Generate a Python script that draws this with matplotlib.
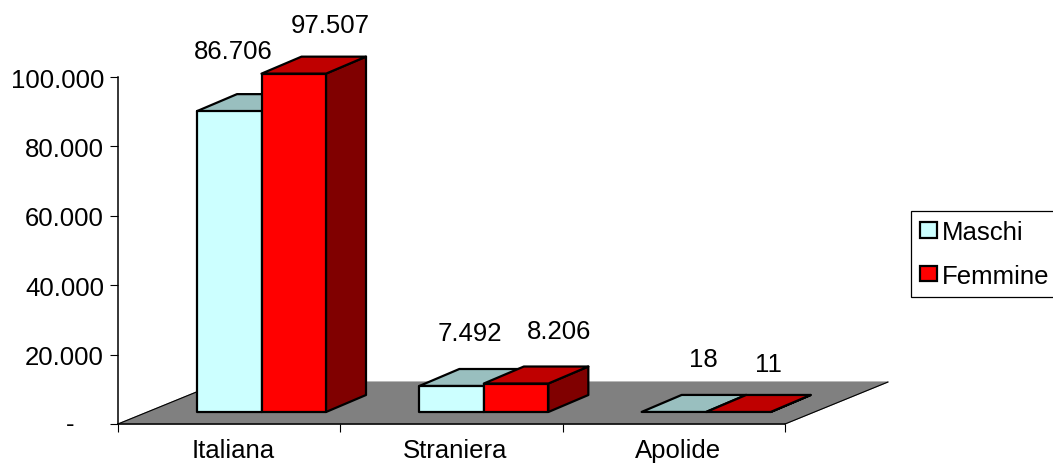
import matplotlib
matplotlib.use('Agg')
import matplotlib.pyplot as plt
from matplotlib.patches import Polygon, Patch

categorie = ['Italiana', 'Straniera', 'Apolide']
maschi = [86706, 7492, 18]
femmine = [97507, 8206, 11]
etichette_maschi = ['86.706', '7.492', '18']
etichette_femmine = ['97.507', '8.206', '11']
y_ticks = [0, 20000, 40000, 60000, 80000, 100000]
y_labels = ['', '20.000', '40.000', '60.000', '80.000', '100.000']

plt.rcParams['font.family'] = ['Liberation Sans', 'DejaVu Sans']

W, H = 1053, 464
FS = 18.5
fig = plt.figure(figsize=(W / 100, H / 100), dpi=100)
ax = fig.add_axes([118 / W, (H - 425) / H, 667 / W, 347 / H])
ax.set_xlim(0, 3)
ax.set_ylim(0, 100000)

# un pixel in unita' dati
xu = 3 / 667
yu = 100000 / 347


def barra(x0, v, fronte, sopra, lato, z):
	x1 = x0 + 64.5 * xu
	base = 12 * yu
	kw = dict(edgecolor='black', linewidth=1.6, joinstyle='round', zorder=z)
	# lato destro
	pts = [(x1, base), (x1 + 40 * xu, base + 17 * yu),
		(x1 + 40 * xu, base + v + 17 * yu), (x1, base + v)]
	ax.add_patch(Polygon(pts, closed=True, clip_on=False, facecolor=lato, **kw))
	# sopra
	pts = [(x0, base + v), (x1, base + v),
		(x1 + 40 * xu, base + v + 17 * yu), (x0 + 40 * xu, base + v + 17 * yu)]
	ax.add_patch(Polygon(pts, closed=True, clip_on=False, facecolor=sopra, **kw))
	# fronte
	if v > 100:
		ax.add_patch(Polygon([(x0, base), (x1, base), (x1, base + v), (x0, base + v)],
			closed=True, clip_on=False, facecolor=fronte, **kw))


# pavimento
ax.add_patch(Polygon([(0, 0), (3, 0), (3 + 103 * xu, 42 * yu), (103 * xu, 42 * yu)], closed=True,
	clip_on=False, facecolor='#808080', edgecolor='#808080', linewidth=0.8, zorder=1))
ax.plot([0, 103 * xu], [0, 42 * yu], color='black', lw=0.8, clip_on=False, zorder=1.5)
ax.plot([3, 3 + 103 * xu], [0, 42 * yu], color='black', lw=0.8, clip_on=False, zorder=1.5)

offs_m = [(4, 60), (18, 53), (29, 53)]
offs_f = [(37, 49), (43, 53), (30, 48)]
for i in range(3):
	xm = i + 79 * xu
	xf = xm + 64.5 * xu
	barra(xm, maschi[i], '#CCFFFF', '#99BFBF', '#669999', 2 + i)
	barra(xf, femmine[i], '#FF0000', '#BF0000', '#800000', 2.5 + i)
	for x, v, txt, off in ((xm, maschi[i], etichette_maschi[i], offs_m[i]),
			(xf, femmine[i], etichette_femmine[i], offs_f[i])):
		ax.annotate(txt, (x + 32.25 * xu, v + 12 * yu), xytext=off, textcoords='offset pixels',
			ha='center', va='center', fontsize=FS, color='black', annotation_clip=False, zorder=10)

for s in ('top', 'right'):
	ax.spines[s].set_visible(False)
for s in ('left', 'bottom'):
	ax.spines[s].set_linewidth(1.1)
	ax.spines[s].set_zorder(1.6)
ax.patch.set_visible(False)

ax.set_yticks(y_ticks)
ax.set_yticklabels(y_labels, fontsize=FS)
ax.tick_params(axis='y', length=6, width=0.8, pad=4)
ax.annotate('-', (0, 0), xytext=(-48, 0), textcoords='offset pixels', ha='center', va='center',
	fontsize=FS, annotation_clip=False)
ax.set_xticks([0, 1, 2, 3])
ax.set_xticklabels([])
ax.tick_params(axis='x', which='major', length=6, width=0.8)
# le etichette sono un po' spostate a destra rispetto al centro
ax.set_xticks([0.5, 1.5, 2.5], minor=True)
ax.set_xticklabels(categorie, minor=True, fontsize=FS)
ax.tick_params(axis='x', which='minor', length=0, pad=10)
for lab in ax.get_xticklabels(minor=True):
	lab.set_transform(lab.get_transform() + matplotlib.transforms.Affine2D().translate(4, 0))

leg = fig.legend(handles=[Patch(facecolor='#CCFFFF', edgecolor='black', linewidth=1.6, label='Maschi'),
		Patch(facecolor='#FF0000', edgecolor='black', linewidth=1.6, label='Femmine')],
	loc='upper left', bbox_to_anchor=(911 / W, 1 - 212 / H), bbox_transform=fig.transFigure,
	fontsize=FS, frameon=True, fancybox=False, framealpha=1, edgecolor='black',
	handlelength=0.66, handleheight=0.55, handletextpad=0.2, labelspacing=0.76,
	borderpad=0.36, borderaxespad=0)
leg.get_frame().set_linewidth(0.9)

plt.savefig('out.png', dpi=100)
